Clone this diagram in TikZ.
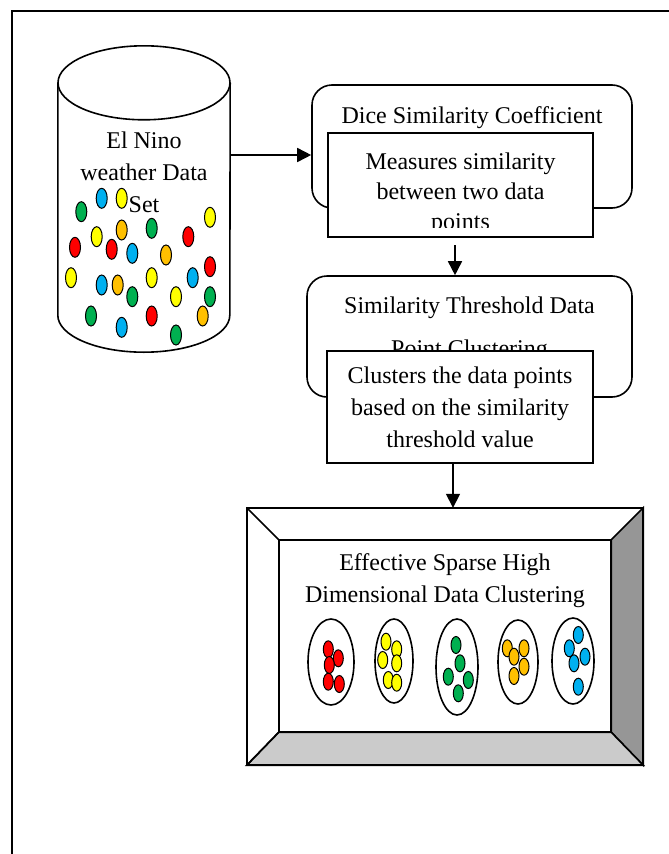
\documentclass[tikz,border=0pt]{standalone}
\usepackage{fontspec}
\setmainfont{Liberation Serif}
\usetikzlibrary{arrows.meta}
\definecolor{dred}{HTML}{FF0000}
\definecolor{dyellow}{HTML}{FFFF00}
\definecolor{dgreen}{HTML}{00B050}
\definecolor{dblue}{HTML}{00B0F0}
\definecolor{dorange}{HTML}{FFC000}
\definecolor{bevdark}{HTML}{969696}
\definecolor{bevlight}{HTML}{CBCBCB}

\begin{document}
\begin{tikzpicture}[x=1pt,y=-1pt]
\tikzstyle{txt}=[inner sep=0pt, align=center, anchor=base, font=\fontsize{24}{31.5}\selectfont]
\tikzstyle{panel}=[draw, line width=1.6pt, rounded corners=20pt, inner sep=0pt]
\tikzstyle{card}=[draw, fill=white, line width=1.6pt, inner sep=0pt]
\tikzstyle{flow}=[line width=1.6pt, -{Triangle[length=14pt,width=14pt]}]
\tikzstyle{edge}=[line width=1.6pt]
\tikzstyle{dot}=[draw, line width=1pt]

\useasboundingbox (0,0) rectangle (669,854);
\draw[edge] (12,880) -- (12,11) -- (700,11);

\draw (144,199) node[minimum width=172, minimum height=232, inner sep=0pt] (store) {};
\draw[edge, fill=white] (store.north west) -- (store.south west) arc[start angle=180, end angle=360, x radius=86pt, y radius=37pt] -- (store.north east);
\draw[edge] (store.north) ellipse[x radius=86pt, y radius=37pt];
\draw (144,212) node[txt, font=\fontsize{24}{32}\selectfont] (storeT) {El Nino\\weather Data\\Set};
\foreach \x/\y/\c in {101.7/198.3/dblue, 121.7/198.3/dyellow, 81.3/211.7/dgreen, 210/217.3/dyellow,
  121.7/230/dorange, 151.7/228.3/dgreen, 96.7/236.7/dyellow, 188.3/236.7/dred, 75/247.3/dred,
  111.7/249.3/dred, 132.3/253.3/dblue, 166/255/dorange, 210/266.7/dred, 71/277.7/dyellow,
  101.7/285/dblue, 117.7/285/dorange, 151.7/277.7/dyellow, 192.7/277.7/dblue, 132.3/296.7/dgreen,
  176/296.7/dyellow, 210/296.7/dgreen, 91/316/dgreen, 151.7/316/dred, 202.7/316/dorange,
  121.7/327.3/dblue, 176/335/dgreen}
  \draw[dot, fill=\c] (\x,\y) ellipse[x radius=5.5pt, y radius=10pt];

\draw (472,146.5) node[panel, minimum width=320, minimum height=123] (dice) {};
\draw (472,123) node[txt] (diceT) {Dice Similarity Coefficient};
\draw (460.5,185) node[card, minimum width=265, minimum height=104] (measure) {};
\begin{scope}
\clip ([xshift=2pt,yshift=10pt]measure.south west) rectangle ([xshift=-2pt,yshift=-2pt]measure.north east);
\draw (460.5,229) node[txt, font=\fontsize{24}{30}\selectfont] (measureT) {Measures similarity\\between two data\\points};
\end{scope}

\draw (469.5,336.5) node[panel, minimum width=325, minimum height=121] (thresh) {};
\draw (469.5,356) node[txt, font=\fontsize{24}{43}\selectfont] (threshT) {Similarity Threshold Data\\Point Clustering};
\draw (460,407) node[card, minimum width=266, minimum height=112] (cluster) {};
\draw (460,447) node[txt, font=\fontsize{24}{32}\selectfont] (clusterT) {Clusters the data points\\based on the similarity\\threshold value};

\coordinate (feed) at (230,155);
\coordinate (link) at (455,245);
\coordinate (drop) at (453,463);
\draw[flow] (feed) -- (feed -| dice.west);
\draw[flow] (link) -- (link |- thresh.north);

\draw (445,636.5) node[minimum width=396, minimum height=257, inner sep=0pt] (result) {};
\coordinate (inNW) at ([xshift=32pt,yshift=-32pt]result.north west);
\coordinate (inNE) at ([xshift=-32pt,yshift=-32pt]result.north east);
\coordinate (inSW) at ([xshift=32pt,yshift=33pt]result.south west);
\coordinate (inSE) at ([xshift=-32pt,yshift=33pt]result.south east);
\draw[edge, fill=white] (result.north west) rectangle (result.south east);
\draw[edge, fill=bevdark] (result.north east) -- (result.south east) -- (inSE) -- (inNE) -- cycle;
\draw[edge, fill=bevlight] (result.south west) -- (result.south east) -- (inSE) -- (inSW) -- cycle;
\draw[edge] (inNW) rectangle (inSE);
\draw[edge] (result.north west) -- (inNW);
\draw[edge] (result.south west) -- (inSW);
\draw[edge] (result.north west) rectangle (result.south east);
\draw[flow] (drop) -- (drop |- result.north);

\draw (445,602) node[txt, font=\fontsize{24}{32}\selectfont] (resultT) {Effective Sparse High\\Dimensional Data Clustering};
\foreach \x/\y/\a/\b in {331/662/23/43, 394/661/19/42, 457/667/21/48, 518/662/20/42, 573/661/21/43}
  \draw[edge] (\x,\y) ellipse[x radius=\a pt, y radius=\b pt];
\foreach \x/\y/\c in {328.3/649.3/dred, 338.3/658.3/dred, 329.3/665/dred, 328.3/681.7/dred, 339.3/684/dred,
  386/641.7/dyellow, 396.7/649.3/dyellow, 382.7/660/dyellow, 396.7/663.3/dyellow, 388.3/680/dyellow, 396.7/682.7/dyellow,
  456/645/dgreen, 460/663.3/dgreen, 448.3/676.7/dgreen, 468.3/680/dgreen, 458.3/693.3/dgreen,
  507.3/648.3/dorange, 524/648.3/dorange, 514/656.7/dorange, 524/666.7/dorange, 514/676/dorange,
  578.3/635/dblue, 569.3/648.3/dblue, 585/656.7/dblue, 574/663.3/dblue, 578.3/686.7/dblue}
  \draw[dot, fill=\c] (\x,\y) ellipse[x radius=5pt, y radius=8.5pt];
\end{tikzpicture}
\end{document}
